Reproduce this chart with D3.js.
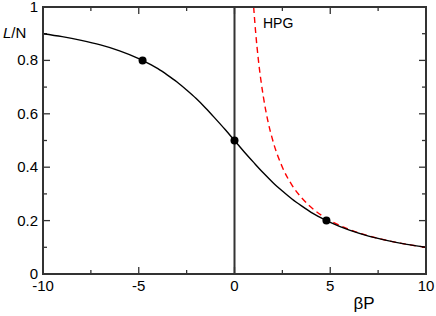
<!DOCTYPE html>
<html>
<head>
<style>
  body { margin: 0; background: #fff; }
  text { font-family: "Liberation Sans", Arial, sans-serif; }
</style>
<script src="https://d3js.org/d3.v7.min.js"></script>
</head>
<body>
<script>
// black curve
var curveX = [-10, -9, -8, -7, -6, -5, -4.5, -4, -3.5, -3, -2.5, -2, -1.5, -1, -0.5, 0,
              0.5, 1, 1.5, 2, 2.5, 3, 3.5, 4, 4.5, 5, 6, 7, 8, 9, 10];
var curveY = [0.900, 0.889, 0.875, 0.858, 0.836, 0.807, 0.789, 0.769, 0.745, 0.719, 0.689, 0.657, 0.621, 0.582, 0.542, 0.500,
              0.458, 0.418, 0.379, 0.343, 0.311, 0.281, 0.255, 0.231, 0.211, 0.193, 0.164, 0.142, 0.125, 0.111, 0.100];
// HPG dashed curve
var hpgX = [1, 1.1, 1.25, 1.5, 1.75, 2, 2.5, 3, 3.5, 4, 5, 6, 7, 8, 9, 10];
var hpgY = [1, 0.909, 0.8, 0.667, 0.571, 0.5, 0.4, 0.333, 0.286, 0.25, 0.2, 0.167, 0.143, 0.125, 0.111, 0.1];
// marked points
var dotX = [-4.8, 0, 4.8];
var dotY = [0.8, 0.5, 0.2];

var xTicks = [-10, -5, 0, 5, 10];
var xMinor = [-7.5, -2.5, 2.5, 7.5];
var yTicks = [0, 0.2, 0.4, 0.6, 0.8, 1];
var yMinor = [0.1, 0.3, 0.5, 0.7, 0.9];

var width = 436, height = 316;
var svg = d3.select("body").append("svg").attr("width", width).attr("height", height);

var x = d3.scaleLinear().domain([-10, 10]).range([43, 426]);
var y = d3.scaleLinear().domain([0, 1]).range([274, 7]);
var axisCol = "#333";

// ticks on all four sides, pointing inward
var tk = svg.append("g").attr("stroke", axisCol).attr("stroke-width", 1.3);
xTicks.concat(xMinor).forEach(function(v) {
  var len = xTicks.indexOf(v) >= 0 ? 7 : 4;
  tk.append("line").attr("x1", x(v)).attr("x2", x(v)).attr("y1", y(0)).attr("y2", y(0) - len);
  tk.append("line").attr("x1", x(v)).attr("x2", x(v)).attr("y1", y(1)).attr("y2", y(1) + len);
});
yTicks.concat(yMinor).forEach(function(v) {
  var len = yTicks.indexOf(v) >= 0 ? 7 : 4;
  tk.append("line").attr("y1", y(v)).attr("y2", y(v)).attr("x1", x(-10)).attr("x2", x(-10) + len);
  tk.append("line").attr("y1", y(v)).attr("y2", y(v)).attr("x1", x(10)).attr("x2", x(10) - len);
});

// vertical line at zero
svg.append("line").attr("x1", x(0)).attr("x2", x(0)).attr("y1", y(0)).attr("y2", y(1))
  .attr("stroke", axisCol).attr("stroke-width", 2);

var line = d3.line().curve(d3.curveMonotoneX);

svg.append("path")
  .attr("d", line(hpgX.map(function(v, i) { return [x(v), y(hpgY[i])]; })))
  .attr("fill", "none").attr("stroke", "#f00").attr("stroke-width", 1.4)
  .attr("stroke-dasharray", "6,4");

svg.append("path")
  .attr("d", line(curveX.map(function(v, i) { return [x(v), y(curveY[i])]; })))
  .attr("fill", "none").attr("stroke", "#000").attr("stroke-width", 1.4);

svg.selectAll(".dot").data(dotX).enter().append("circle")
  .attr("class", "dot")
  .attr("cx", function(d) { return x(d); })
  .attr("cy", function(d, i) { return y(dotY[i]); })
  .attr("r", 4).attr("fill", "#000");

// frame
svg.append("rect").attr("x", x(-10)).attr("y", y(1))
  .attr("width", x(10) - x(-10)).attr("height", y(0) - y(1))
  .attr("fill", "none").attr("stroke", axisCol).attr("stroke-width", 2);

// tick labels
svg.selectAll(".xl").data(xTicks).enter().append("text")
  .attr("x", function(d) { return x(d); }).attr("y", 291)
  .attr("text-anchor", "middle").attr("font-size", 15)
  .text(function(d) { return d; });
svg.selectAll(".yl").data(yTicks).enter().append("text")
  .attr("x", 38).attr("y", function(d) { return y(d) + 5; })
  .attr("text-anchor", "end").attr("font-size", 15)
  .text(function(d) { return d; });

// axis titles
var yt = svg.append("text").attr("x", 3).attr("y", 38).attr("font-size", 15);
yt.append("tspan").attr("font-style", "italic").text("L");
yt.append("tspan").text("/N");
svg.append("text").attr("x", 364).attr("y", 309).attr("text-anchor", "middle")
  .attr("font-size", 17).text("βP");
svg.append("text").attr("x", 263).attr("y", 28).attr("font-size", 14).text("HPG");
</script>
</body>
</html>
